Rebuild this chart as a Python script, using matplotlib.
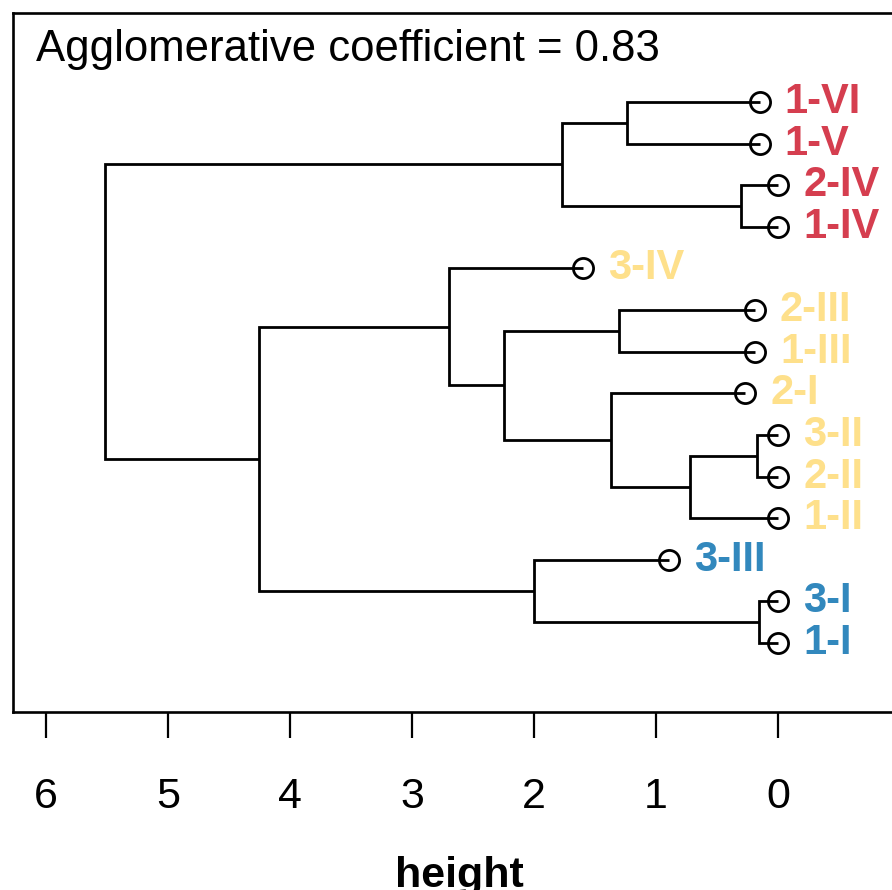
import matplotlib
matplotlib.use("Agg")
import matplotlib.pyplot as plt

# Blätter von oben nach unten
labels = ["1-VI", "1-V", "2-IV", "1-IV", "3-IV", "2-III", "1-III",
          "2-I", "3-II", "2-II", "1-II", "3-III", "3-I", "1-I"]
leaf_heights = [0.15, 0.15, 0.0, 0.0, 1.60, 0.19, 0.19,
                0.27, 0.0, 0.0, 0.0, 0.89, 0.0, 0.0]
groups = [0, 0, 0, 0, 1, 1, 1, 1, 1, 1, 1, 2, 2, 2]
group_colors = ["#D53E4F", "#FEE08B", "#3288BD"]

# Verschmelzungen: negative Zahl = Blatt (1-basiert), positive = frühere Verschmelzung
merges = [(-1, -2), (-3, -4), (1, 2), (-6, -7), (-9, -10), (5, -11),
          (-8, 6), (4, 7), (-5, 8), (-13, -14), (-12, 10), (9, 11), (3, 12)]
merge_heights = [1.24, 0.30, 1.77, 1.30, 0.17, 0.72, 1.37,
                 2.25, 2.70, 0.16, 2.00, 4.25, 5.52]

ac_text = "Agglomerative coefficient = 0.83"

plt.rcParams["font.family"] = ["Liberation Sans", "DejaVu Sans"]

fig = plt.figure(figsize=(8.92, 8.90), dpi=100)
ax = fig.add_axes([13 / 892, 1 - 712 / 890, 892 / 892, 699 / 890])

leaf_y = list(range(1, len(labels) + 1))


def node_pos(idx):
    if idx < 0:
        return leaf_heights[-idx - 1], leaf_y[-idx - 1]
    return merge_heights[idx - 1], merge_y[idx - 1]


merge_y = []
for (a, b), h in zip(merges, merge_heights):
    ha_, ya = node_pos(a)
    hb, yb = node_pos(b)
    ax.plot([ha_, h, h, hb], [ya, ya, yb, yb], color="black", lw=2.0,
            solid_joinstyle="miter", solid_capstyle="butt", zorder=2)
    merge_y.append((ya + yb) / 2)

ax.plot(leaf_heights, leaf_y, "o", ms=14.5, mfc="none", mec="black",
        mew=2.0, zorder=3, ls="none")
for lab, h, y, g in zip(labels, leaf_heights, leaf_y, groups):
    ax.annotate(lab, (h, y), xytext=(18, 0), textcoords="offset points",
                ha="left", va="center", fontsize=30, fontweight="bold",
                color=group_colors[g])

ax.set_xlim(6.27, -1.04)
ax.set_ylim(15.66, -1.14)
ax.set_yticks([])
ax.set_xticks(range(6, -1, -1))
ax.tick_params(axis="x", direction="out", length=19, width=1.6, pad=28,
               labelsize=31)
for s in ax.spines.values():
    s.set_linewidth(1.9)
ax.spines["right"].set_visible(False)
ax.set_xlabel("height", fontsize=31, fontweight="bold", labelpad=28)

fig.text(36 / 892, 1 - 61 / 890, ac_text, fontsize=31.5, ha="left",
         va="baseline")

fig.savefig("out.png", dpi=100)
